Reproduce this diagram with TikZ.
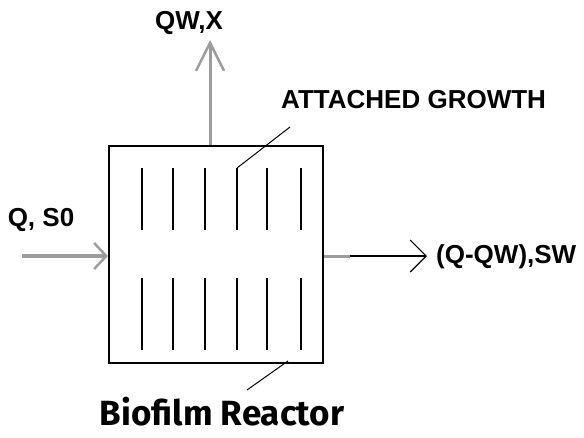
\documentclass[tikz,border=0pt]{standalone}
\usepackage{fontspec}
\setmainfont{Liberation Sans}
\newfontfamily\captionfont{Fira Sans}
\usetikzlibrary{
  arrows.meta,
  positioning,
  calc
}
\definecolor{flowGray}{HTML}{9C9C9C}

\begin{document}
\begin{tikzpicture}[x=1pt, y=-1pt,
  flowlbl/.style={font=\fontsize{26}{30}\selectfont\bfseries, inner sep=0pt},
  reactorbox/.style={draw, line width=2.2pt, minimum width=214pt, minimum height=217pt, inner sep=0pt},
  media/.style={line width=1.6pt},
  leader/.style={line width=1pt}
]
  \useasboundingbox (0,0) rectangle (584,437);

  % reactor and attached media
  \node[reactorbox] (reactor) at (216,254.5) {};
  \foreach \x [count=\i] in {142,173,205,237,267,301} {
    \draw[media] (\x,168) coordinate (up\i) -- (\x,230);
    \draw[media] (\x,278) -- (\x,350);
  }

  % labels
  \node[flowlbl] (qwx) at (189,23) {QW,X};
  \node[flowlbl] (feed) at (41,220) {Q, S0};
  \node[flowlbl, anchor=west] (effluent) at (436,257) {(Q-QW),SW};
  \node[flowlbl, anchor=west] (growth) at (281,100) {ATTACHED GROWTH};
  \node[font=\captionfont\fontsize{35}{40}\selectfont\bfseries, inner sep=0pt] (caption) at (222,412) {Biofilm Reactor};

  % flows
  \coordinate (inlet) at (22,256);
  \coordinate (wasteTip) at (210,40);
  \coordinate (outStub) at (350,256);
  \coordinate (outTip) at (427,256);
  \draw[flowGray, line width=4pt, -{Straight Barb[length=12pt, width=26pt, line width=2.5pt]}]
    (inlet) -- (inlet -| reactor.west);
  \draw[flowGray, line width=3pt, -{Straight Barb[length=28pt, width=28pt, line width=2.5pt]}]
    (wasteTip |- reactor.north) -- (wasteTip);
  \draw[flowGray, line width=3pt] (reactor.east |- outStub) -- (outStub);
  \draw[line width=1.2pt, -{Straight Barb[length=16pt, width=32pt, line width=1.2pt]}]
    (outStub) -- (outTip);

  % leaders
  \draw[leader] (290,127) -- (up4);
  \coordinate (capLead) at (247,390);
  \draw[leader] (288,361) -- (capLead);
\end{tikzpicture}
\end{document}
